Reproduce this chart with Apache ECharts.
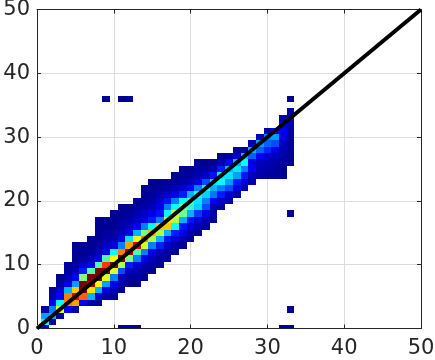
<!DOCTYPE html>
<html><head><meta charset="utf-8">
<style>html,body{margin:0;padding:0;background:#fff}#c{width:435px;height:360px}</style>
<script src="https://cdn.jsdelivr.net/npm/echarts@6/dist/echarts.min.js"></script>
</head><body><div id="c"></div>
<script>
const axisTicks = [0, 10, 20, 30, 40, 50];
const diagonalX = [0, 50];
const diagonalY = [0, 50];
const jetColors = ['#000080','#0000ff','#0080ff','#00ffff','#80ff80','#ffff00','#ff8000','#ff0000','#800000'];
// first row of each column's run of filled bins
const columnStart = [0,0,1,2,3,3,4,4,4,5,5,6,7,7,8,9,10,11,12,13,14,15,16,17,19,20,21,22,23,24,24,24,24,26];
// normalised density for each column, upward from columnStart
const columnValues = [
 [.45],
 [.05,.38,.28,.03],
 [.03,.3,.25,.12,.05,.03],
 [.03,.6,.38,.12,.08,.03,.02],
 [.12,.75,.75,.3,.1,.05,.03,.03],
 [.03,.72,.9,.68,.28,.12,.05,.03,.02,.02,.02],
 [.12,.78,1,1,.5,.15,.08,.03,.02,.02],
 [.04,.3,.65,.95,1,.45,.12,.05,.03,.02,.02],
 [.02,.08,.3,.62,1,1,.45,.1,.05,.03,.02,.02,.02,.02],
 [.04,.1,.28,.6,1,.82,.45,.12,.07,.04,.03,.02,.02],
 [.02,.05,.1,.25,.6,1,.62,.38,.1,.05,.03,.02,.02,.02],
 [.02,.04,.06,.2,.55,1,.75,.25,.1,.06,.04,.03,.02,.02],
 [.02,.03,.06,.15,.5,.95,.72,.35,.12,.06,.04,.03,.02],
 [.02,.03,.05,.09,.25,.45,.9,.6,.3,.12,.07,.05,.03,.02],
 [.02,.03,.05,.1,.25,.58,.75,.5,.25,.1,.07,.04,.03,.02,.02],
 [.02,.03,.06,.1,.25,.55,.7,.38,.15,.1,.06,.04,.03,.02,.02],
 [.02,.03,.05,.15,.3,.55,.68,.25,.14,.1,.08,.05,.03,.02],
 [.02,.04,.07,.14,.3,.68,.65,.38,.25,.14,.07,.04,.02],
 [.02,.04,.08,.15,.38,.55,.58,.38,.25,.1,.06,.03,.02],
 [.02,.05,.1,.14,.3,.48,.5,.38,.15,.08,.04,.03,.02],
 [.02,.05,.08,.14,.3,.42,.45,.3,.13,.06,.03,.02],
 [.02,.05,.08,.18,.33,.35,.4,.25,.1,.05,.03,.02],
 [.03,.05,.1,.2,.25,.33,.38,.2,.07,.03,.02],
 [.02,.04,.05,.12,.24,.3,.35,.14,.05,.02],
 [.03,.07,.15,.25,.38,.35,.15,.05,.02],
 [.04,.08,.2,.28,.35,.3,.12,.04],
 [.04,.1,.15,.28,.35,.3,.08,.02],
 [.05,.08,.15,.25,.38,.3,.03],
 [.04,.06,.12,.1,.22,.3,.05],
 [.04,.05,.06,.12,.22,.28,.05],
 [.03,.04,.05,.08,.16,.22,.25,.04],
 [.03,.03,.04,.06,.1,.2,.28,.12],
 [.02,.02,.03,.04,.05,.06,.1,.12,.1,.04],
 [.02,.02,.03,.03,.03,.04,.05,.06,.03]
];
// isolated bins away from the main band: [column, row, density]
const outlierBins = [[9,36,.02],[11,36,.02],[12,36,.02],[11,0,.02],[12,0,.02],[13,0,.02],[32,0,.02],[33,0,.02],[33,3,.02],[33,18,.02],[33,36,.02]];

const cells = [];
columnValues.forEach((vals, col) => vals.forEach((v, k) => cells.push([col, columnStart[col] + k, v])));
outlierBins.forEach(b => cells.push(b));

const chart = echarts.init(document.getElementById('c'), null, {renderer:'canvas'});
const ink = '#262626';
const labelFont = {fontFamily:'DejaVu Sans', fontSize:21, color:ink};
function valueAxis(pos, showLabel, margin){
  return {
    type:'value', position:pos, min:axisTicks[0], max:axisTicks[axisTicks.length-1], interval:10,
    axisLine:{show:true, onZero:false, lineStyle:{color:ink, width:1}},
    axisTick:{show:true, inside:true, length:4, lineStyle:{color:ink, width:1}},
    axisLabel:Object.assign({show:showLabel, margin:margin, showMinLabel:true, showMaxLabel:true}, labelFont),
    splitLine:{show:showLabel, lineStyle:{color:'#dcdcdc', width:1}}
  };
}
chart.setOption({
  animation:false,
  backgroundColor:'#fff',
  grid:{left:37, right:14, top:9.5, bottom:31.5, containLabel:false, outerBoundsMode:'none'},
  xAxis:[valueAxis('bottom', true, 10), valueAxis('top', false, 8)],
  yAxis:[valueAxis('left', true, 7), valueAxis('right', false, 7)],
  visualMap:{show:false, type:'continuous', min:0, max:1, dimension:2, seriesIndex:0, inRange:{color:jetColors}},
  series:[
    {
      type:'custom', coordinateSystem:'cartesian2d', xAxisIndex:0, yAxisIndex:0, clip:true, z:2,
      encode:{x:0, y:1},
      data:cells,
      renderItem(params, api){
        const a = api.coord([api.value(0)-0.5, api.value(1)+0.5]);
        const b = api.coord([api.value(0)+0.5, api.value(1)-0.5]);
        const x0 = Math.round(a[0]), y0 = Math.round(a[1]);
        const rect = echarts.graphic.clipRectByRect(
          {x:x0, y:y0, width:Math.round(b[0])-x0, height:Math.round(b[1])-y0},
          {x:params.coordSys.x, y:params.coordSys.y, width:params.coordSys.width, height:params.coordSys.height}
        );
        return rect && {type:'rect', shape:rect, style:{fill:api.visual('color')}};
      }
    },
    {
      type:'line', xAxisIndex:0, yAxisIndex:0, z:5, symbol:'none', silent:true,
      data:diagonalX.map((x,i)=>[x, diagonalY[i]]),
      lineStyle:{color:'#000', width:4}
    }
  ]
});
</script></body></html>
